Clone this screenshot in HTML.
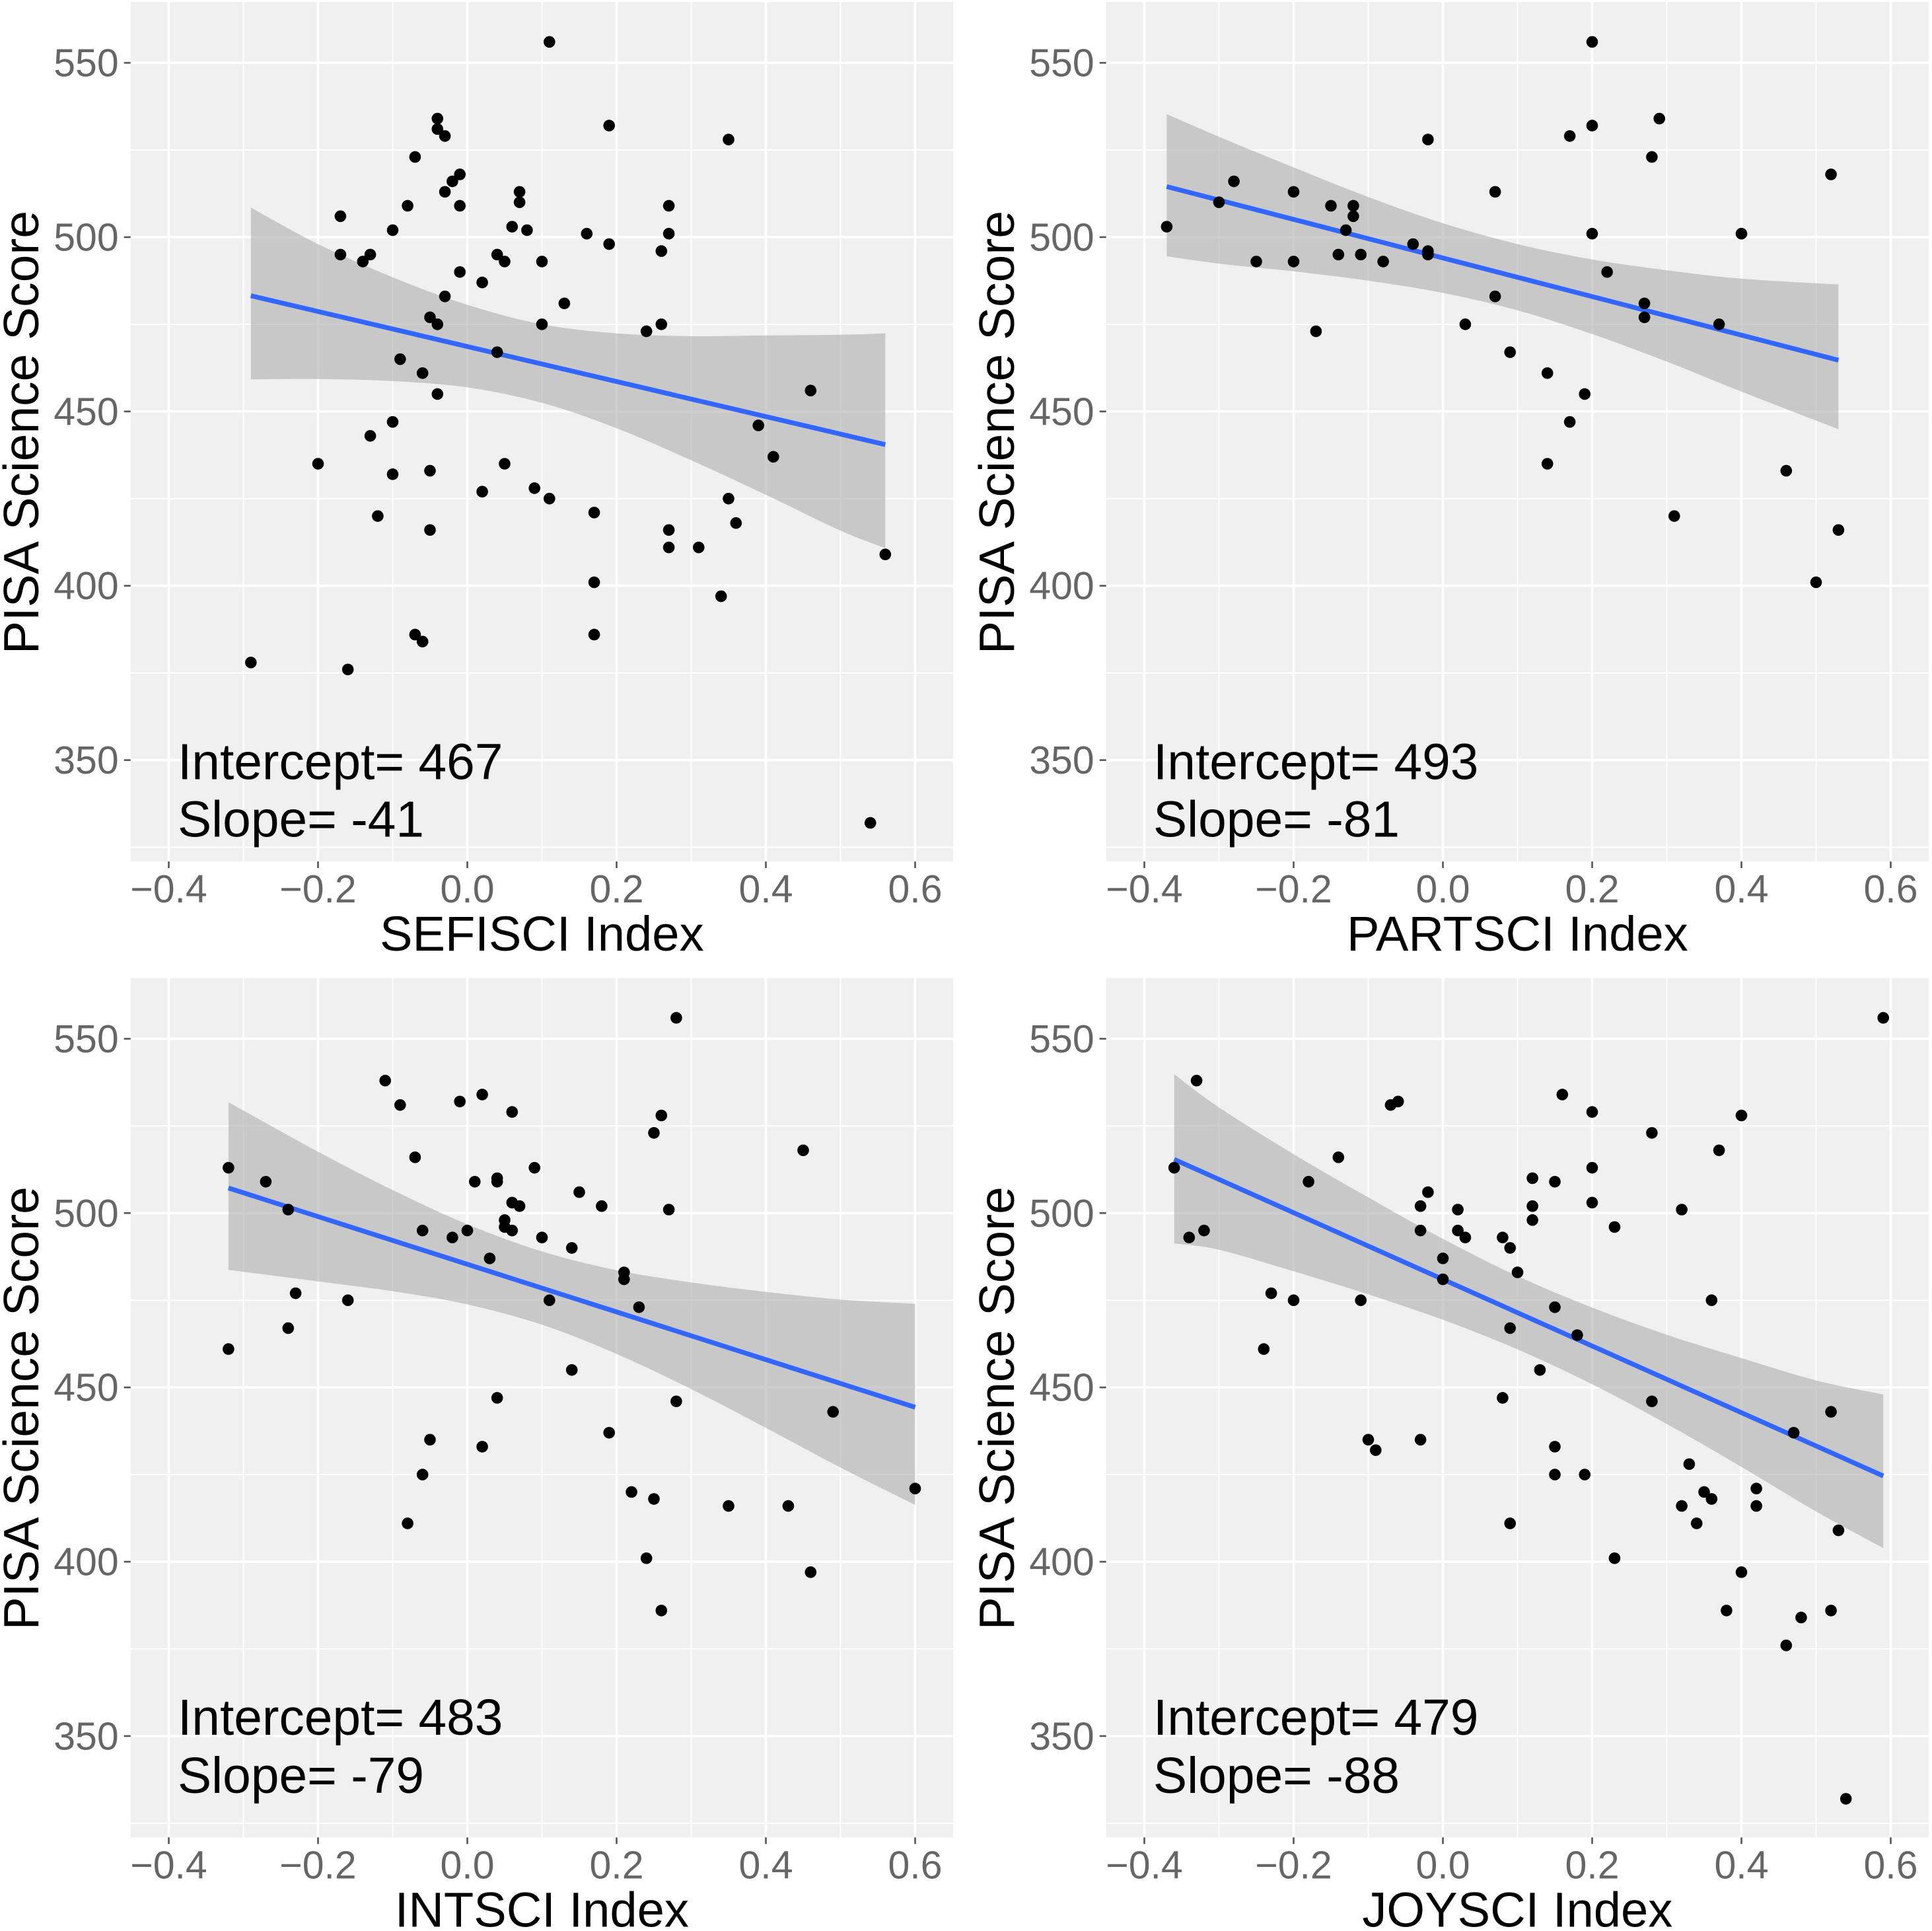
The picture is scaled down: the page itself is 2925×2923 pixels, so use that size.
<!DOCTYPE html>
<html lang="en">
<head>
<meta charset="utf-8">
<title>PISA Science Score vs science indices</title>
<style>
html,body{margin:0;padding:0;background:#fff;}
#chart-root{display:block;width:2925px;height:2923px;font-family:"Liberation Sans",sans-serif;}
</style>
</head>
<body>
<svg id="chart-root" xmlns="http://www.w3.org/2000/svg" width="2925" height="2923" viewBox="0 0 2925 2923"></svg>
<script>
var xTickValues = [-0.4, -0.2, 0.0, 0.2, 0.4, 0.6];
var xTickLabels = ["\u22120.4", "\u22120.2", "0.0", "0.2", "0.4", "0.6"];
var xMinorValues = [-0.3, -0.1, 0.1, 0.3, 0.5];
var yTickValues = [350, 400, 450, 500, 550];
var yTickLabels = ["350", "400", "450", "500", "550"];
var yMinorValues = [325, 375, 425, 475, 525];

var sefisciX = [.11,-.04,-.04,-.03,.19,.35,-.07,-.01,-.02,-.03,.07,.07,-.08,-.01,.27,-.17,.06,-.10,.08,.16,.27,.19,.26,-.17,-.13,-.14,.04,.05,.10,-.01,.02,-.03,.13,-.05,-.04,.10,.26,.24,.04,-.09,-.06,-.04,.46,-.10,.39,-.13,.41,-.20,.05,-.05,-.10,.09,.02,.11,.35,.17,-.12,.36,-.05,.27,.27,.31,.56,.17,.34,-.07,-.06,.17,-.29,-.16,.54];
var sefisciY = [556,534,531,529,532,528,523,518,516,513,513,510,509,509,509,506,503,502,502,501,501,498,496,495,495,493,495,493,493,490,487,483,481,477,475,475,475,473,467,465,461,455,456,447,446,443,437,435,435,433,432,428,427,425,425,421,420,418,416,416,411,411,409,401,397,386,384,386,378,376,332];
var sefisciLineX = [-0.29, 0.56];
var sefisciLineY = [483.2, 440.5];
var sefisciBandX = [-.29,-.2,-.1,0,.1,.2,.3,.4,.5,.56];
var sefisciBandUpper = [508.5,498,488.5,480.6,475,472.4,471.6,471.8,472,472.4];
var sefisciBandLower = [459.2,459.3,458.7,456.9,452.5,445.2,436,426.1,415.8,410.8];

var partsciX = [.20,.29,.20,.17,-.02,.28,.52,-.28,.07,-.20,-.30,-.15,-.12,-.12,-.37,-.13,.20,.40,-.04,-.02,-.02,-.14,-.11,-.25,-.20,-.08,.22,.07,.27,.27,.03,.37,-.17,.09,.14,.19,.17,.14,.46,.31,.53,.50];
var partsciY = [556,534,532,529,528,523,518,516,513,513,510,509,509,506,503,502,501,501,498,496,495,495,495,493,493,493,490,483,481,477,475,475,473,467,461,455,447,435,433,420,416,401];
var partsciLineX = [-0.37, 0.53];
var partsciLineY = [514.5, 464.7];
var partsciBandX = [-.37,-.3,-.2,-.1,0,.1,.2,.3,.4,.53];
var partsciBandUpper = [535.3,528.8,520,511.5,504,498,493.6,490.5,488.1,486.4];
var partsciBandLower = [494.5,492.4,490.2,487.5,484,479,472.2,464.3,455.7,444.9];

var intsciX = [.28,-.11,.02,-.09,-.01,.06,.26,.25,.45,-.07,-.32,.09,.04,.04,-.27,.01,.15,.06,.07,.18,-.24,.27,.05,.05,.06,-.06,0,-.02,.10,.14,.03,.21,.21,-.23,-.16,.11,.23,-.24,-.32,.14,.04,.28,.49,.19,-.05,.02,-.06,.60,.22,.25,.35,.43,-.08,.24,.46,.26];
var intsciY = [556,538,534,531,532,529,528,523,518,516,513,513,510,509,509,509,506,503,502,502,501,501,498,496,495,495,495,493,493,490,487,483,481,477,475,475,473,467,461,455,447,446,443,437,435,433,425,421,420,418,416,416,411,401,397,386];
var intsciLineX = [-0.32, 0.60];
var intsciLineY = [507.2, 444.3];
var intsciBandX = [-.32,-.2,-.1,0,.1,.2,.3,.4,.5,.6];
var intsciBandUpper = [531.8,517.6,506.6,496.8,489,483.6,480.1,477.4,475.2,474];
var intsciBandLower = [483.7,480.4,477.6,473.8,468,459.6,449.5,438.4,427,416.3];

var joysciX = [.59,-.33,.16,-.06,-.07,.20,.40,.28,.37,-.14,-.36,.20,.12,.15,-.18,-.02,.20,-.03,.12,.02,.32,.12,.23,-.03,.02,-.32,-.34,.03,.08,.09,0,.10,0,-.23,-.20,-.11,.36,.15,.09,.18,-.24,.13,.08,.28,.52,.47,-.10,-.03,-.09,.15,.33,.15,.19,.42,.35,.36,.32,.42,.09,.34,.53,.23,.40,.38,.52,.48,.46,.54];
var joysciY = [556,538,534,532,531,529,528,523,518,516,513,513,510,509,509,506,503,502,502,501,501,498,496,495,495,495,493,493,493,490,487,483,481,477,475,475,475,473,467,465,461,455,447,446,443,437,435,435,432,433,428,425,425,421,420,418,416,416,411,411,409,401,397,386,386,384,376,332];
var joysciLineX = [-0.36, 0.59];
var joysciLineY = [515.4, 424.6];
var joysciBandX = [-.36,-.3,-.2,-.1,0,.1,.2,.3,.4,.5,.59];
var joysciBandUpper = [539.8,530.3,516.9,504.5,492.6,481.9,472.9,465.1,458.4,452,448];
var joysciBandLower = [491.3,489.5,483.3,476.7,469.4,460.9,450.9,439.5,427.2,414.4,403.9];

var xTitles = ["SEFISCI Index", "PARTSCI Index", "INTSCI Index", "JOYSCI Index"];
var interceptLabels = ["Intercept= 467", "Intercept= 493", "Intercept= 483", "Intercept= 479"];
var slopeLabels = ["Slope= -41", "Slope= -81", "Slope= -79", "Slope= -88"];

var svgNS = "http://www.w3.org/2000/svg";
var root = document.getElementById("chart-root");

function mk(parent, tag, attrs, text) {
  var el = document.createElementNS(svgNS, tag);
  for (var k in attrs) { el.setAttribute(k, attrs[k]); }
  if (text !== undefined) { el.textContent = text; }
  parent.appendChild(el);
  return el;
}

function smoothSegments(pts) {
  var d = "";
  for (var i = 0; i < pts.length - 1; i++) {
    var p0 = pts[Math.max(0, i - 1)], p1 = pts[i], p2 = pts[i + 1], p3 = pts[Math.min(pts.length - 1, i + 2)];
    var c1x = p1[0] + (p2[0] - p0[0]) / 6, c1y = p1[1] + (p2[1] - p0[1]) / 6;
    var c2x = p2[0] - (p3[0] - p1[0]) / 6, c2y = p2[1] - (p3[1] - p1[1]) / 6;
    d += " C" + c1x.toFixed(1) + " " + c1y.toFixed(1) + " " + c2x.toFixed(1) + " " + c2y.toFixed(1) + " " + p2[0].toFixed(1) + " " + p2[1].toFixed(1);
  }
  return d;
}

function drawPanel(idx, offX, offY, annotY1, annotY2, px, py, bandX, bandUpper, bandLower, lineX, lineY) {
  var left = 197.7 + offX, right = 1443 + offX, top = 3 + offY, bottom = 1304 + offY;
  function xScale(v) { return 707.5 + offX + v * 1130; }
  function yScale(v) { return 95.1 + offY + (550 - v) * 5.2775; }

  var g = mk(root, "g", {});
  
  

  var bg = mk(g, "rect", {x: left, y: top, width: right - left, height: bottom - top, fill: "#f0f0f0"});
  
  

  yMinorValues.forEach(function (v) {
    var el = mk(g, "line", {x1: left, x2: right, y1: yScale(v), y2: yScale(v), stroke: "#fff", "stroke-width": 1.8});
    
    
  });
  xMinorValues.forEach(function (v) {
    var el = mk(g, "line", {y1: top, y2: bottom, x1: xScale(v), x2: xScale(v), stroke: "#fff", "stroke-width": 1.8});
    
    
  });
  yTickValues.forEach(function (v, i) {
    var y = yScale(v);
    var gl = mk(g, "line", {x1: left, x2: right, y1: y, y2: y, stroke: "#fff", "stroke-width": 3.6});
    
    
    var t = mk(g, "line", {x1: left - 10, x2: left, y1: y, y2: y, stroke: "#555", "stroke-width": 2.6});
    
    
    var lb = mk(g, "text", {x: left - 18, y: y + 20.5, "text-anchor": "end", "font-size": 59, fill: "#666"}, yTickLabels[i]);
    
    
  });
  xTickValues.forEach(function (v, i) {
    var x = xScale(v);
    var gl = mk(g, "line", {y1: top, y2: bottom, x1: x, x2: x, stroke: "#fff", "stroke-width": 3.6});
    
    
    var t = mk(g, "line", {y1: bottom, y2: bottom + 10, x1: x, x2: x, stroke: "#555", "stroke-width": 2.6});
    
    
    var lb = mk(g, "text", {x: x, y: bottom + 62, "text-anchor": "middle", "font-size": 59, fill: "#666"}, xTickLabels[i]);
    
    
  });

  var upperPts = bandX.map(function (v, i) { return [xScale(v), yScale(bandUpper[i])]; });
  var lowerPts = bandX.map(function (v, i) { return [xScale(v), yScale(bandLower[i])]; }).reverse();
  var d = "M" + upperPts[0][0].toFixed(1) + " " + upperPts[0][1].toFixed(1) + smoothSegments(upperPts) +
          " L" + lowerPts[0][0].toFixed(1) + " " + lowerPts[0][1].toFixed(1) + smoothSegments(lowerPts) + " Z";
  var band = mk(g, "path", {d: d, fill: "#adadad", "fill-opacity": 0.6});
  
  

  var fit = mk(g, "line", {x1: xScale(lineX[0]), y1: yScale(lineY[0]), x2: xScale(lineX[1]), y2: yScale(lineY[1]), stroke: "#3366ff", "stroke-width": 7.2});
  
  

  px.forEach(function (v, i) {
    var c = mk(g, "circle", {cx: xScale(v), cy: yScale(py[i]), r: 8.8, fill: "#000"});
    
    
  });

  var a1 = mk(g, "text", {x: 269 + offX, y: annotY1, "font-size": 76.7, fill: "#000"}, interceptLabels[idx]);
  
  
  var a2 = mk(g, "text", {x: 269 + offX, y: annotY2, "font-size": 76.7, fill: "#000"}, slopeLabels[idx]);
  
  

  var xt = mk(g, "text", {x: (left + right) / 2, y: bottom + 135, "text-anchor": "middle", "font-size": 74.2, fill: "#000"}, xTitles[idx]);
  
  
  var ty = (top + bottom) / 2 + 1, tx = 58 + offX;
  var yt = mk(g, "text", {x: tx, y: ty, "text-anchor": "middle", "font-size": 75, fill: "#000", transform: "rotate(-90 " + tx + " " + ty + ")"}, "PISA Science Score");
  
  
}

drawPanel(0, 0, 0, 1179.5, 1266.5, sefisciX, sefisciY, sefisciBandX, sefisciBandUpper, sefisciBandLower, sefisciLineX, sefisciLineY);
drawPanel(1, 1477, 0, 1179.5, 1266.5, partsciX, partsciY, partsciBandX, partsciBandUpper, partsciBandLower, partsciLineX, partsciLineY);
drawPanel(2, 0, 1477.3, 2626, 2714, intsciX, intsciY, intsciBandX, intsciBandUpper, intsciBandLower, intsciLineX, intsciLineY);
drawPanel(3, 1477, 1477.3, 2626, 2714, joysciX, joysciY, joysciBandX, joysciBandUpper, joysciBandLower, joysciLineX, joysciLineY);
</script>
</body>
</html>
